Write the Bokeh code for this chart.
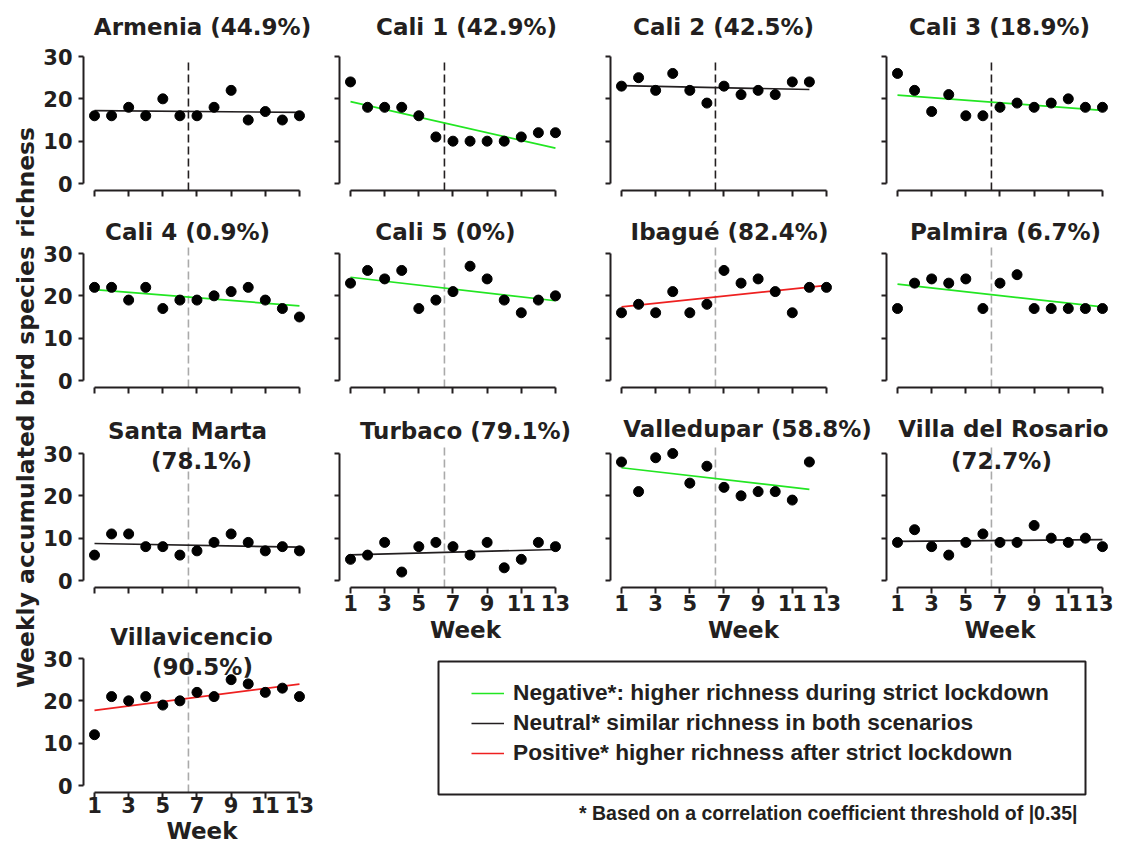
import numpy as np
from bokeh.plotting import figure
from bokeh.models import Range1d, FixedTicker, Label, Legend, LegendItem, Title
from bokeh.layouts import row, column
from bokeh.embed import file_html
from bokeh.resources import INLINE

# ---------------- data ----------------
SITES = ["Armenia", "Cali 1", "Cali 2", "Cali 3", "Cali 4", "Cali 5", "Ibagué",
         "Palmira", "Santa Marta", "Turbaco", "Valledupar", "Villa del Rosario",
         "Villavicencio"]
PERCENT = ["44.9%", "42.9%", "42.5%", "18.9%", "0.9%", "0%", "82.4%", "6.7%",
           "78.1%", "79.1%", "58.8%", "72.7%", "90.5%"]
TREND = ["Neutral", "Negative", "Neutral", "Negative", "Negative", "Negative",
         "Positive", "Negative", "Neutral", "Neutral", "Negative", "Neutral",
         "Positive"]

armenia = [16, 16, 18, 16, 20, 16, 16, 18, 22, 15, 17, 15, 16]
cali_1 = [24, 18, 18, 18, 16, 11, 10, 10, 10, 10, 11, 12, 12]
cali_2 = [23, 25, 22, 26, 22, 19, 23, 21, 22, 21, 24, 24]
cali_3 = [26, 22, 17, 21, 16, 16, 18, 19, 18, 19, 20, 18, 18]
cali_4 = [22, 22, 19, 22, 17, 19, 19, 20, 21, 22, 19, 17, 15]
cali_5 = [23, 26, 24, 26, 17, 19, 21, 27, 24, 19, 16, 19, 20]
ibague = [16, 18, 16, 21, 16, 18, 26, 23, 24, 21, 16, 22, 22]
palmira = [17, 23, 24, 23, 24, 17, 23, 25, 17, 17, 17, 17, 17]
santa_marta = [6, 11, 11, 8, 8, 6, 7, 9, 11, 9, 7, 8, 7]
turbaco = [5, 6, 9, 2, 8, 9, 8, 6, 9, 3, 5, 9, 8]
valledupar = [28, 21, 29, 30, 23, 27, 22, 20, 21, 21, 19, 28]
villa_del_rosario = [9, 12, 8, 6, 9, 11, 9, 9, 13, 10, 9, 10, 8]
villavicencio = [12, 21, 20, 21, 19, 20, 22, 21, 25, 24, 22, 23, 21]

RICHNESS = [armenia, cali_1, cali_2, cali_3, cali_4, cali_5, ibague, palmira,
            santa_marta, turbaco, valledupar, villa_del_rosario, villavicencio]

LOCKDOWN_END_WEEK = 6.5
X_TICKS = [1, 3, 5, 7, 9, 11, 13]
Y_TICKS = [0, 10, 20, 30]
X_LABEL = "Week"
Y_LABEL = "Weekly accumulated bird species richness"
LEGEND_LABELS = {
    "Negative": "Negative*: higher richness during strict lockdown",
    "Neutral": "Neutral* similar richness in both scenarios",
    "Positive": "Positive* higher richness after strict lockdown",
}
FOOTNOTE = "* Based on a correlation coefficient threshold of |0.35|"
TWO_LINE_TITLES = {"Santa Marta", "Villa del Rosario", "Villavicencio"}

# ---------------- style / layout ----------------
INK = "#231f20"
TREND_COLORS = {"Negative": "#22e622", "Neutral": "#231f20", "Positive": "#ee2020"}
TITLE_FONT = "DejaVu Sans"
PX_PER_WEEK = 17.08
PX_PER_UNIT = 4.233
X_PAD_PX, Y_PAD_PX = 11, 7

# title label offsets (px) from the (first week, top tick) anchor, one per line
TITLE_OFFSETS = [
    [(108, 30)], [(116, 30)], [(102, 30)], [(102, 30)],
    [(93, 22)], [(95, 22)], [(108, 22)], [(108, 22)],
    [(93, 23), (107, -7)], [(115, 23)], [(126, 25)], [(106, 25), (104, -7)],
    [(97, 22), (108, -8)],
]
COL_GEOM = [(280, 43), (271, 19), (285, 19), (237, 10)]     # width, border left
ROW_GEOM = {0: (205, 15), 1: (200, 18), 2: (210, 28), 3: (233, 56),
            "2b": (247, 65)}                                # height, border bottom
DASH_TOP = {0: 29.2}     # top of the lockdown line (default 31.6)


def style_axis(ax, tick_out):
    ax.axis_line_width = 2
    ax.axis_line_color = INK
    ax.major_tick_line_width = 2
    ax.major_tick_line_color = INK
    ax.minor_tick_line_width = 2
    ax.minor_tick_line_color = INK
    ax.major_tick_in = 0
    ax.minor_tick_in = 0
    ax.major_tick_out = tick_out
    ax.minor_tick_out = tick_out
    ax.major_label_text_font = TITLE_FONT
    ax.major_label_text_font_style = "bold"
    ax.major_label_text_font_size = "21px"
    ax.major_label_text_color = INK


def make_panel(i, col, rowkey, show_y, show_x, standoffs=(1, 3)):
    width, bl = COL_GEOM[col]
    height, bb = ROW_GEOM[rowkey]
    x0 = X_TICKS[0] - X_PAD_PX / PX_PER_WEEK
    y0 = Y_TICKS[0] - Y_PAD_PX / PX_PER_UNIT
    p = figure(width=width, height=height,
               x_range=Range1d(x0, x0 + (width - bl) / PX_PER_WEEK),
               y_range=Range1d(y0, y0 + (height - bb) / PX_PER_UNIT),
               min_border_left=bl, min_border_right=0,
               min_border_top=0, min_border_bottom=bb,
               toolbar_location=None, output_backend="svg",
               outline_line_color=None, background_fill_color="white",
               border_fill_color="white")
    p.xgrid.visible = False
    p.ygrid.visible = False
    xa, ya = p.xaxis[0], p.yaxis[0]
    style_axis(xa, 6)
    style_axis(ya, 5)
    xa.bounds = (X_TICKS[0], X_TICKS[-1])
    ya.bounds = (Y_TICKS[0], Y_TICKS[-1])
    if show_y:
        ya.ticker = FixedTicker(ticks=Y_TICKS, minor_ticks=[])
        ya.major_label_standoff = 6
    else:
        ya.ticker = FixedTicker(ticks=[], minor_ticks=Y_TICKS)
    if show_x:
        xa.ticker = FixedTicker(ticks=X_TICKS, minor_ticks=[])
        xa.major_label_standoff = standoffs[0]
        xa.axis_label = X_LABEL
        xa.axis_label_standoff = standoffs[1]
        xa.axis_label_text_font = TITLE_FONT
        xa.axis_label_text_font_style = "bold"
        xa.axis_label_text_font_size = "23px"
        xa.axis_label_text_color = INK
    else:
        xa.ticker = FixedTicker(ticks=[], minor_ticks=X_TICKS)

    vals = RICHNESS[i]
    weeks = np.arange(1, len(vals) + 1)
    dash_color = INK if rowkey == 0 else "#aaaaaa"
    p.segment(x0=[LOCKDOWN_END_WEEK], y0=[y0], x1=[LOCKDOWN_END_WEEK],
              y1=[DASH_TOP.get(rowkey, 31.6)], line_color=dash_color,
              line_dash="8 4", line_width=1.6)
    slope, intercept = np.polyfit(weeks, vals, 1)
    tx = [weeks[0], weeks[-1]]
    ty = [slope * weeks[0] + intercept, slope * weeks[-1] + intercept]
    p.line(tx, ty, line_color=TREND_COLORS[TREND[i]], line_width=1.7)
    p.scatter(weeks, vals, marker="circle", size=10, fill_color="black",
              line_color="black")

    if SITES[i] in TWO_LINE_TITLES:
        lines = [SITES[i], "(" + PERCENT[i] + ")"]
    else:
        lines = [SITES[i] + " (" + PERCENT[i] + ")"]
    for text, (dx, dy) in zip(lines, TITLE_OFFSETS[i]):
        p.add_layout(Label(x=X_TICKS[0], y=Y_TICKS[-1], x_offset=dx, y_offset=dy,
                           text=text, text_align="center", text_baseline="middle",
                           text_font=TITLE_FONT, text_font_style="bold",
                           text_font_size="23px", text_color=INK))
    return p


col1 = [make_panel(0, 0, 0, True, False),
        make_panel(4, 0, 1, True, False),
        make_panel(8, 0, 2, True, False),
        make_panel(12, 0, 3, True, True, standoffs=(-2, 2))]
col2 = [make_panel(1, 1, 0, False, False),
        make_panel(5, 1, 1, False, False),
        make_panel(9, 1, "2b", False, True)]
col3 = [make_panel(2, 2, 0, False, False),
        make_panel(6, 2, 1, False, False),
        make_panel(10, 2, "2b", False, True)]
col4 = [make_panel(3, 3, 0, False, False),
        make_panel(7, 3, 1, False, False),
        make_panel(11, 3, "2b", False, True)]

# y axis title strip
yl = figure(width=40, height=848, x_range=Range1d(0, 40), y_range=Range1d(0, 848),
            min_border=0, toolbar_location=None, output_backend="svg",
            outline_line_color=None, x_axis_type=None, y_axis_type=None)
yl.add_layout(Label(x=25, y=441, text=Y_LABEL, angle=np.pi / 2,
                    text_align="center", text_baseline="middle",
                    text_font=TITLE_FONT, text_font_style="bold",
                    text_font_size="23.5px", text_color=INK))

# legend box (the frame is the box)
lf = figure(width=793, height=196, x_range=Range1d(0, 647), y_range=Range1d(0, 133),
            min_border_left=118, min_border_right=28, min_border_top=9,
            min_border_bottom=54, toolbar_location=None, output_backend="svg",
            outline_line_color=INK, outline_line_width=2,
            x_axis_type=None, y_axis_type=None)
items = []
for key in ["Negative", "Neutral", "Positive"]:
    r = lf.line(x=[np.nan, np.nan], y=[np.nan, np.nan],
                line_color=TREND_COLORS[key], line_width=1.6)
    items.append(LegendItem(label=LEGEND_LABELS[key], renderers=[r]))
legend = Legend(items=items, location=(33, 28), padding=0, margin=0,
                spacing=3, glyph_width=33, glyph_height=26, label_height=26,
                label_standoff=9, border_line_alpha=0, background_fill_alpha=0,
                label_text_font="Liberation Sans", label_text_font_style="bold",
                label_text_font_size="22.7px", label_text_color=INK)
lf.add_layout(legend)
lf.add_layout(Title(text=FOOTNOTE, align="right", offset=8,
                    text_font="Liberation Sans", text_font_style="bold",
                    text_font_size="19.5px", text_color=INK), "below")

layout = row(yl, column(*col1),
             column(row(column(*col2), column(*col3), column(*col4)), lf))

open("out.html", "w").write(file_html(layout, INLINE))
